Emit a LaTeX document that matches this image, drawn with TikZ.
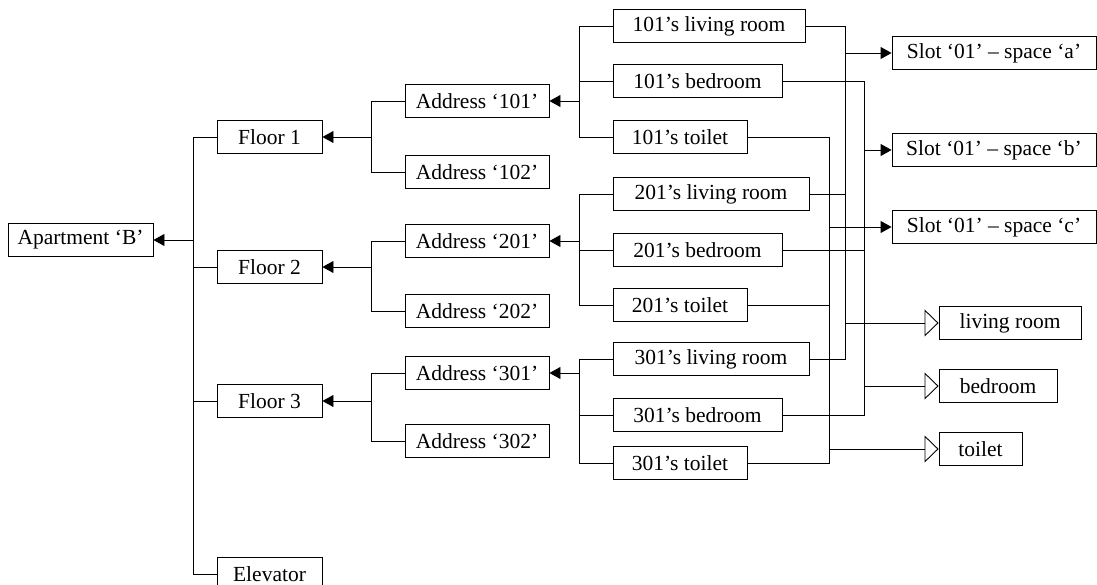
\documentclass[tikz,border=0pt]{standalone}
\usepackage{fontspec}
\setmainfont{Liberation Serif}
\usetikzlibrary{arrows.meta}

\tikzstyle{box} = [draw,line width=0.9pt,minimum height=33pt,inner sep=0pt,font=\fontsize{21.5}{24}\selectfont]
\tikzstyle{link} = [line width=0.9pt]
\tikzstyle{arr} = [link,-{Triangle[length=11pt,width=12pt]}]
\tikzstyle{oarr} = [link,-{Triangle[open,length=14pt,width=27pt]}]

\begin{document}
\begin{tikzpicture}[x=1pt,y=-1pt]
		\clip (0,0) rectangle (1097,585);
		\node[box,minimum width=145pt] (apt) at (80.5,240) {Apartment ‘B’};
		\node[box,minimum width=105pt] (fl1) at (269.5,137) {Floor 1};
		\node[box,minimum width=105pt] (fl2) at (269.5,267) {Floor 2};
		\node[box,minimum width=105pt] (fl3) at (269.5,401) {Floor 3};
		\node[box,minimum width=105pt] (elev) at (269.5,574) {Elevator};
		\node[box,minimum width=144pt] (a101) at (477,101) {Address ‘101’};
		\node[box,minimum width=144pt] (a102) at (477,172) {Address ‘102’};
		\node[box,minimum width=144pt] (a201) at (477,241) {Address ‘201’};
		\node[box,minimum width=144pt] (a202) at (477,311) {Address ‘202’};
		\node[box,minimum width=144pt] (a301) at (477,373) {Address ‘301’};
		\node[box,minimum width=144pt] (a302) at (477,441) {Address ‘302’};
		\node[box,minimum width=192pt] (liv101) at (709,26) {101’s living room};
		\node[box,minimum width=169pt] (bed101) at (697.5,81) {101’s bedroom};
		\node[box,minimum width=134pt] (toi101) at (680,137) {101’s toilet};
		\node[box,minimum width=196pt] (liv201) at (711,194) {201’s living room};
		\node[box,minimum width=169pt] (bed201) at (697.5,250) {201’s bedroom};
		\node[box,minimum width=134pt] (toi201) at (680,305) {201’s toilet};
		\node[box,minimum width=196pt] (liv301) at (711,359) {301’s living room};
		\node[box,minimum width=169pt] (bed301) at (697.5,415) {301’s bedroom};
		\node[box,minimum width=134pt] (toi301) at (680,463) {301’s toilet};
		\node[box,minimum width=204pt] (slota) at (994,53) {Slot ‘01’ – space ‘a’};
		\node[box,minimum width=204pt] (slotb) at (994,150) {Slot ‘01’ – space ‘b’};
		\node[box,minimum width=204pt] (slotc) at (994,227) {Slot ‘01’ – space ‘c’};
		\node[box,minimum width=142pt] (liv) at (1010,323) {living room};
		\node[box,minimum width=118pt] (bed) at (998,386) {bedroom};
		\node[box,minimum width=83pt] (toi) at (980.5,449) {toilet};
		% bus lines
		\coordinate (bus0) at (193,0);
		\coordinate (bus1) at (371,0);
		\coordinate (bus2) at (579,0);
		\coordinate (bust) at (829,0);
		\coordinate (busl) at (845,0);
		\coordinate (busb) at (864,0);
		% apartment and floors
		\draw[link] (fl1.west) -- (bus0 |- fl1.west) -- (bus0 |- elev.west) -- (elev.west);
		\draw[link] (fl2.west) -- (bus0 |- fl2.west);
		\draw[link] (fl3.west) -- (bus0 |- fl3.west);
		\draw[arr] (bus0 |- apt.east) -- (apt.east);
		% floors and addresses
		\draw[link] (a101.west) -- (bus1 |- a101.west) -- (bus1 |- a102.west) -- (a102.west);
		\draw[link] (a201.west) -- (bus1 |- a201.west) -- (bus1 |- a202.west) -- (a202.west);
		\draw[link] (a301.west) -- (bus1 |- a301.west) -- (bus1 |- a302.west) -- (a302.west);
		\draw[arr] (bus1 |- fl1.east) -- (fl1.east);
		\draw[arr] (bus1 |- fl2.east) -- (fl2.east);
		\draw[arr] (bus1 |- fl3.east) -- (fl3.east);
		% addresses and rooms
		\draw[link] (liv101.west) -- (bus2 |- liv101.west) -- (bus2 |- toi101.west) -- (toi101.west);
		\draw[link] (bed101.west) -- (bus2 |- bed101.west);
		\draw[link] (liv201.west) -- (bus2 |- liv201.west) -- (bus2 |- toi201.west) -- (toi201.west);
		\draw[link] (bed201.west) -- (bus2 |- bed201.west);
		\draw[link] (liv301.west) -- (bus2 |- liv301.west) -- (bus2 |- toi301.west) -- (toi301.west);
		\draw[link] (bed301.west) -- (bus2 |- bed301.west);
		\draw[arr] (bus2 |- a101.east) -- (a101.east);
		\draw[arr] (bus2 |- a201.east) -- (a201.east);
		\draw[arr] (bus2 |- a301.east) -- (a301.east);
		% rooms to slots and room types
		\draw[link] (liv101.east) -- (busl |- liv101.east) -- (busl |- liv301.east) -- (liv301.east);
		\draw[link] (liv201.east) -- (busl |- liv201.east);
		\draw[link] (bed101.east) -- (busb |- bed101.east) -- (busb |- bed301.east) -- (bed301.east);
		\draw[link] (bed201.east) -- (busb |- bed201.east);
		\draw[link] (toi101.east) -- (bust |- toi101.east) -- (bust |- toi301.east) -- (toi301.east);
		\draw[link] (toi201.east) -- (bust |- toi201.east);
		\draw[arr] (busl |- slota.west) -- (slota.west);
		\draw[arr] (busb |- slotb.west) -- (slotb.west);
		\draw[arr] (bust |- slotc.west) -- (slotc.west);
		\draw[oarr] (busl |- liv.west) -- (liv.west);
		\draw[oarr] (busb |- bed.west) -- (bed.west);
		\draw[oarr] (bust |- toi.west) -- (toi.west);
\end{tikzpicture}
\end{document}
